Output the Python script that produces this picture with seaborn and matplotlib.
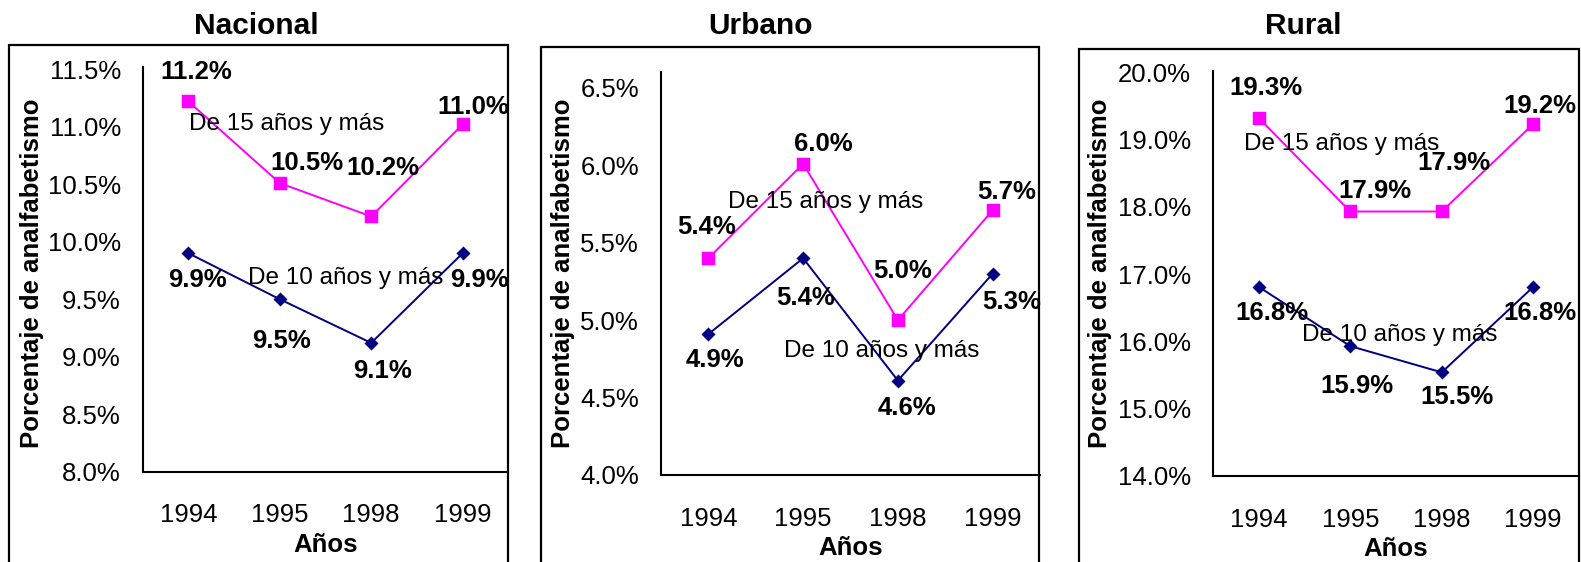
import numpy as np
import pandas as pd
import matplotlib
matplotlib.use("Agg")
import matplotlib.pyplot as plt
import seaborn as sns
from matplotlib.patches import Rectangle
from matplotlib.ticker import FixedLocator, FuncFormatter

# Data (percent)
years = ["1994", "1995", "1998", "1999"]
panels = ["Nacional", "Urbano", "Rural"]
nac_15 = [11.22, 10.51, 10.22, 11.02]
nac_10 = [9.90, 9.50, 9.12, 9.90]
urb_15 = [5.40, 6.01, 5.00, 5.71]
urb_10 = [4.91, 5.40, 4.61, 5.30]
rur_15 = [19.32, 17.93, 17.93, 19.23]
rur_10 = [16.81, 15.93, 15.54, 16.81]
y_ticks = [
    [8.0, 8.5, 9.0, 9.5, 10.0, 10.5, 11.0, 11.5],
    [4.0, 4.5, 5.0, 5.5, 6.0, 6.5],
    [14.0, 15.0, 16.0, 17.0, 18.0, 19.0, 20.0],
]
serie_15 = "De 15 años y más"
serie_10 = "De 10 años y más"

# Layout (pixels in a 1581x562 image)
W, H = 1581, 562
axes_px = [(142.7, 67.0, 508.3, 471.7), (661, 72, 1040, 475), (1213, 70.7, 1579, 476)]
ylims = [(8.0, 11.52), (4.0, 6.603), (14.0, 20.022)]
frames_px = [(9, 45, 508), (541, 47, 1039), (1079, 49, 1579)]
title_x = [256, 761, 1303]
ylabel_x = [32, 563, 1100]
lab15_pos = [(0.395, 0.859), (0.435, 0.677), (0.352, 0.819)]
lab10_pos = [(0.556, 0.479), (0.583, 0.308), (0.511, 0.348)]
off15 = [[(8, -29), (27, -20), (12, -48), (11, -17)],
         [(-2, -31), (20, -20), (5, -49), (14, -18)],
         [(7, -30), (25, -20), (12, -48), (7, -18)]]
off10 = [[(9, 27), (2, 42), (11, 28), (17, 27)],
         [(7, 26), (2, 40), (9, 27), (19, 28)],
         [(13, 26), (7, 40), (15, 25), (7, 26)]]

MAGENTA = "#FF00FF"
NAVY = "#000080"
FS = 17.5
FS_TICK = 18.5
FS_VAL = 18.5

sns.set_theme(style="white")
plt.rcParams["font.family"] = ["Liberation Sans", "DejaVu Sans"]
plt.rcParams["text.color"] = "black"
plt.rcParams["axes.labelcolor"] = "black"
plt.rcParams["xtick.color"] = "black"
plt.rcParams["ytick.color"] = "black"

fig = plt.figure(figsize=(W / 100, H / 100), dpi=100)

data15 = [nac_15, urb_15, rur_15]
data10 = [nac_10, urb_10, rur_10]

for i in range(3):
    x0, y0, x1, y1 = axes_px[i]
    ax = fig.add_axes([x0 / W, 1 - y1 / H, (x1 - x0) / W, (y1 - y0) / H])
    ax.set_facecolor("none")

    sns.pointplot(x=years, y=data15[i], ax=ax, color=MAGENTA, markers="s",
                  markersize=8.5, linewidth=1.4)
    sns.pointplot(x=years, y=data10[i], ax=ax, color=NAVY, markers="D",
                  markersize=6.5, linewidth=1.4)

    ax.set_xlim(-0.5, 3.5)
    ax.set_ylim(*ylims[i])
    ax.set_yticks(y_ticks[i])
    ax.yaxis.set_major_formatter(FuncFormatter(lambda v, p: f"{v:.1f}%"))
    ax.set_xticks(range(len(years)))
    ax.set_xticklabels(years)
    ax.xaxis.set_minor_locator(FixedLocator([-0.5, 0.5, 1.5, 2.5, 3.5]))
    ax.tick_params(axis="both", which="both", direction="out", length=5.8,
                   width=1.2, color="black", labelsize=FS_TICK, labelcolor="black")
    ax.tick_params(axis="y", pad=10)
    ax.tick_params(axis="x", pad=17)
    sns.despine(ax=ax)
    for s in ("left", "bottom"):
        ax.spines[s].set_color("black")
        ax.spines[s].set_linewidth(1.5)
    ax.grid(False)

    ax.set_xlabel("Años", fontsize=FS_TICK, fontweight="bold", labelpad=4,
                  color="black")
    ax.set_ylabel("")

    # data labels
    for j in range(len(years)):
        ax.annotate(f"{data15[i][j]:.1f}%", (j, data15[i][j]),
                    xytext=(off15[i][j][0], -off15[i][j][1]),
                    textcoords="offset pixels", ha="center", va="center",
                    fontsize=FS_VAL, fontweight="bold", annotation_clip=False)
        ax.annotate(f"{data10[i][j]:.1f}%", (j, data10[i][j]),
                    xytext=(off10[i][j][0], -off10[i][j][1]),
                    textcoords="offset pixels", ha="center", va="center",
                    fontsize=FS_VAL, fontweight="bold", annotation_clip=False)

    ax.text(*lab15_pos[i], serie_15, transform=ax.transAxes, ha="center",
            va="center", fontsize=FS)
    ax.text(*lab10_pos[i], serie_10, transform=ax.transAxes, ha="center",
            va="center", fontsize=FS)

    # panel title and y label
    fig.text(title_x[i] / W, 1 - 26 / H, panels[i], ha="center", va="center",
             fontsize=21.5, fontweight="bold")
    fig.text(ylabel_x[i] / W, 1 - 273 / H, "Porcentaje de analfabetismo",
             rotation=90, ha="center", va="center", fontsize=18.5,
             fontweight="bold")

    # panel frame
    fx0, fy0, fx1 = frames_px[i]
    fig.add_artist(Rectangle((fx0 / W, -0.2), (fx1 - fx0) / W, 1.2 - fy0 / H,
                             transform=fig.transFigure, fill=False,
                             edgecolor="black", linewidth=1.6, clip_on=False))

fig.savefig("out.png", dpi=100)
